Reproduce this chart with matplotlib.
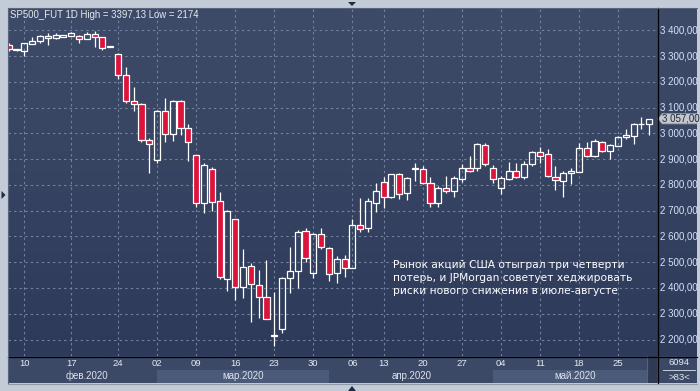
import numpy as np
import matplotlib
matplotlib.use("Agg")
from matplotlib import pyplot as plt
from matplotlib.colors import LinearSegmentedColormap
from matplotlib.patches import Polygon
from matplotlib.lines import Line2D

# daily candles, 83 bars (feb 2020 - may 2020)
opens = [3345, 3323, 3322, 3349, 3357, 3372, 3372, 3376, 3380, 3379,
         3368, 3386, 3374, 3337, 3309, 3226, 3126, 3115, 2974, 2896,
         3089, 2997, 3125, 3020, 2915, 2729, 2862, 2738, 2434, 2667,
         2405, 2484, 2411, 2365, 2215, 2240, 2438, 2466, 2622, 2457,
         2609, 2554, 2457, 2511, 2479, 2644, 2634, 2731, 2811, 2755,
         2843, 2768, 2862, 2861, 2807, 2731, 2787, 2777, 2822, 2865,
         2867, 2955, 2867, 2787, 2822, 2856, 2832, 2880, 2927, 2919,
         2832, 2817, 2845, 2852, 2943, 2913, 2968, 2933, 2953, 2985,
         2991, 3036, 3037]
highs = [3350, 3327, 3350, 3374, 3381, 3389, 3389, 3383, 3394, 3381,
         3393, 3397, 3376, 3340, 3311, 3258, 3181, 3118, 2984, 3090,
         3138, 3130, 3130, 3037, 2917, 2886, 2870, 2773, 2703, 2668,
         2550, 2497, 2470, 2509, 2385, 2444, 2560, 2625, 2632, 2613,
         2632, 2558, 2524, 2528, 2667, 2748, 2751, 2807, 2830, 2843,
         2848, 2830, 2884, 2874, 2830, 2796, 2835, 2835, 2882, 2913,
         2964, 2964, 2878, 2835, 2891, 2884, 2893, 2933, 2949, 2939,
         2874, 2854, 2865, 2964, 2965, 2978, 2970, 2960, 2991, 3016,
         3040, 3063, 3057]
lows = [3322, 3321, 3302, 3347, 3353, 3345, 3366, 3375, 3379, 3353,
        3366, 3337, 3324, 3335, 3213, 3117, 3089, 2967, 2848, 2887,
        2968, 2972, 2994, 2894, 2713, 2692, 2700, 2436, 2390, 2353,
        2360, 2269, 2282, 2278, 2174, 2227, 2382, 2399, 2502, 2440,
        2552, 2428, 2421, 2444, 2478, 2619, 2616, 2696, 2710, 2748,
        2746, 2742, 2817, 2804, 2714, 2714, 2770, 2752, 2811, 2849,
        2856, 2874, 2809, 2765, 2819, 2826, 2822, 2875, 2884, 2830,
        2781, 2755, 2804, 2850, 2910, 2908, 2929, 2900, 2951, 2977,
        2960, 3016, 2994]
closes = [3327, 3326, 3350, 3358, 3377, 3380, 3381, 3382, 3390, 3368,
          3386, 3374, 3333, 3340, 3226, 3125, 3113, 2974, 2958, 3089,
          2997, 3125, 3020, 2966, 2731, 2877, 2735, 2444, 2699, 2405,
          2480, 2415, 2364, 2279, 2218, 2438, 2466, 2616, 2515, 2609,
          2558, 2453, 2511, 2477, 2644, 2630, 2738, 2777, 2755, 2843,
          2765, 2826, 2865, 2807, 2729, 2787, 2778, 2826, 2865, 2856,
          2959, 2880, 2822, 2826, 2856, 2832, 2880, 2927, 2914, 2835,
          2819, 2845, 2854, 2943, 2914, 2971, 2933, 2955, 2985, 2994,
          3036, 3037, 3057]

day_ticks = [2, 8, 14, 19, 24, 29, 34, 39, 44, 48, 53, 58, 63, 68, 73, 78]
day_labels = ["10", "17", "24", "02", "09", "16", "23", "30",
              "06", "13", "20", "27", "04", "11", "18", "25"]
month_pos = [10, 30, 51.6, 72.5]
month_labels = ["фев.2020", "мар.2020", "апр.2020", "май.2020"]
month_bands = [(19, 41), (62, 81.7)]
price_ticks = list(range(2200, 3500, 100))
last_price = 3057

title = "SP500_FUT 1D High = 3397,13 Low = 2174"
note = ("Рынок акций США отыграл три четверти\n"
        "потерь, и JPMorgan советует хеджировать\n"
        "риски нового снижения в июле-августе")

W, H = 700, 391
BORDER = "#c3cbd7"
RED = "#dc143c"
GRID = "#71819e"
bg = LinearSegmentedColormap.from_list("bg", ["#2d3a5a", "#3e4b68"])

XL = (-0.09, 83.0)
YL = (2136, 3487)


def box(x0, y0, x1, y1):
    return [x0 / W, 1 - y1 / H, (x1 - x0) / W, (y1 - y0) / H]


def money(v):
    return f"{v:,.2f}".replace(",", " ").replace(".", ",")


fig = plt.figure(figsize=(7, 3.91), dpi=100)
fig.patch.set_facecolor(BORDER)

ax = fig.add_axes(box(8, 8, 657, 356))
rax = fig.add_axes(box(657, 8, 697, 356))
dax = fig.add_axes(box(8, 356, 657, 383))
cax = fig.add_axes(box(657, 356, 697, 383))

grad = np.linspace(0, 1, 256).reshape(-1, 1)
for a in (ax, rax):
    a.imshow(grad, extent=[0, 1, 0, 1], transform=a.transAxes, aspect="auto",
             cmap=bg, origin="lower", zorder=0)
for a in (ax, rax, dax, cax):
    for s in a.spines.values():
        s.set_visible(False)
    a.tick_params(length=0, labelbottom=False, labelleft=False)

ax.set_xlim(*XL)
ax.set_ylim(*YL)
ax.set_xticks(day_ticks)
ax.set_yticks(price_ticks)
ax.grid(color=GRID, linestyle=(0, (2.2, 2.8)), linewidth=0.8)
ax.set_axisbelow(True)

# candles
x = np.arange(len(opens))
bw = 0.78
for i in x:
    o, h, l, c = opens[i], highs[i], lows[i], closes[i]
    top, bot = max(o, c), min(o, c)
    ax.vlines(i, top, h, color="white", lw=0.9, zorder=3)
    ax.vlines(i, l, bot, color="white", lw=0.9, zorder=3)
    fc = RED if c < o else "none"
    ax.bar(i, max(top - bot, 0.5), bottom=bot, width=bw, color=fc,
           edgecolor="white", linewidth=0.9, zorder=4)

fig.text(10 / W, 1 - 15 / H, title, color="#e6e9f0", fontsize=6.9,
         family="Liberation Sans", va="center", ha="left")
ax.text(393 / W, 1 - 259.5 / H, note, transform=fig.transFigure, color="white",
        fontsize=7.7, family="DejaVu Sans", va="top", ha="left",
        linespacing=1.38, zorder=6)

# right price axis
rax.set_xlim(0, 1)
rax.set_ylim(*YL)
for v in price_ticks:
    rax.text(0.07, v, money(v), transform=rax.get_yaxis_transform(), va="center",
             ha="left", color="#d6e2fa", fontsize=7.0, family="Liberation Sans")
hh = 20
tag = Polygon([(0.02, last_price), (0.13, last_price + hh), (1.0, last_price + hh),
               (1.0, last_price - hh), (0.13, last_price - hh)],
              closed=True, transform=rax.get_yaxis_transform(),
              fc="#c4c8ce", ec="#8d939c", lw=0.6, zorder=5)
rax.add_patch(tag)
rax.text(0.12, last_price, money(last_price),
         transform=rax.get_yaxis_transform(), va="center", ha="left",
         color="#20283a", fontsize=7.0, family="Liberation Sans", zorder=6)

# date strip
dax.set_facecolor("#3c4966")
dax.set_xlim(*XL)
dax.set_ylim(0, 1)
for a0, a1 in month_bands:
    dax.axvspan(a0, a1, ymin=0, ymax=0.49, color="#4b5a78", lw=0)
dax.axvspan(81.7, XL[1], color="#2f3a55", lw=0)
dax.axvline(81.7, ymin=0, ymax=1, color="#56637d", lw=0.8)
for p, lab in zip(day_ticks, day_labels):
    dax.text(p, 0.74, lab, ha="center", va="center", color="#e4e9f2",
             fontsize=6.8, family="Liberation Sans")
for p, lab in zip(month_pos, month_labels):
    dax.text(p, 0.26, lab, ha="center", va="center", color="#dde3ee",
             fontsize=7.0, family="Liberation Sans")

cax.set_facecolor("#3c4966")
cax.set_xlim(0, 1)
cax.set_ylim(0, 1)
cax.text(0.55, 0.76, "6094", ha="center", va="center", color="#e4e9f2",
         fontsize=6.8, family="Liberation Sans")
cax.plot([0.15, 0.95], [0.5, 0.5], color="#c8cfdb", lw=0.7)
cax.text(0.55, 0.22, ">83<", ha="center", va="center", color="#e4e9f2",
         fontsize=6.8, family="Liberation Sans")

# frame lines and scroll arrows
fig.add_artist(Line2D([8 / W, 697 / W], [1 - 356.5 / H] * 2, color="black", lw=0.9))
fig.add_artist(Line2D([657.5 / W] * 2, [1 - 8 / H, 1 - 383 / H], color="black", lw=0.9))
fig.add_artist(Line2D([8 / W, 697 / W], [1 - 7.5 / H] * 2, color="#59657c", lw=0.8))
fig.add_artist(Line2D([7.5 / W] * 2, [1 - 8 / H, 1 - 383 / H], color="#59657c", lw=0.8))
fig.add_artist(Line2D([8 / W, 697 / W], [1 - 383.5 / H] * 2, color="#8f99aa", lw=0.8))
arrow = "#1e2a44"
fig.add_artist(Polygon([(348 / W, 1 - 2 / H), (356 / W, 1 - 2 / H), (352 / W, 1 - 6 / H)],
                       closed=True, transform=fig.transFigure, fc=arrow, ec="none"))
fig.add_artist(Polygon([(348 / W, 1 - 391 / H), (356 / W, 1 - 391 / H), (352 / W, 1 - 386 / H)],
                       closed=True, transform=fig.transFigure, fc=arrow, ec="none"))
fig.add_artist(Polygon([(1.5 / W, 1 - 191 / H), (1.5 / W, 1 - 199 / H), (5.5 / W, 1 - 195 / H)],
                       closed=True, transform=fig.transFigure, fc=arrow, ec="none"))

fig.savefig("out.png", dpi=100, facecolor=fig.get_facecolor())
